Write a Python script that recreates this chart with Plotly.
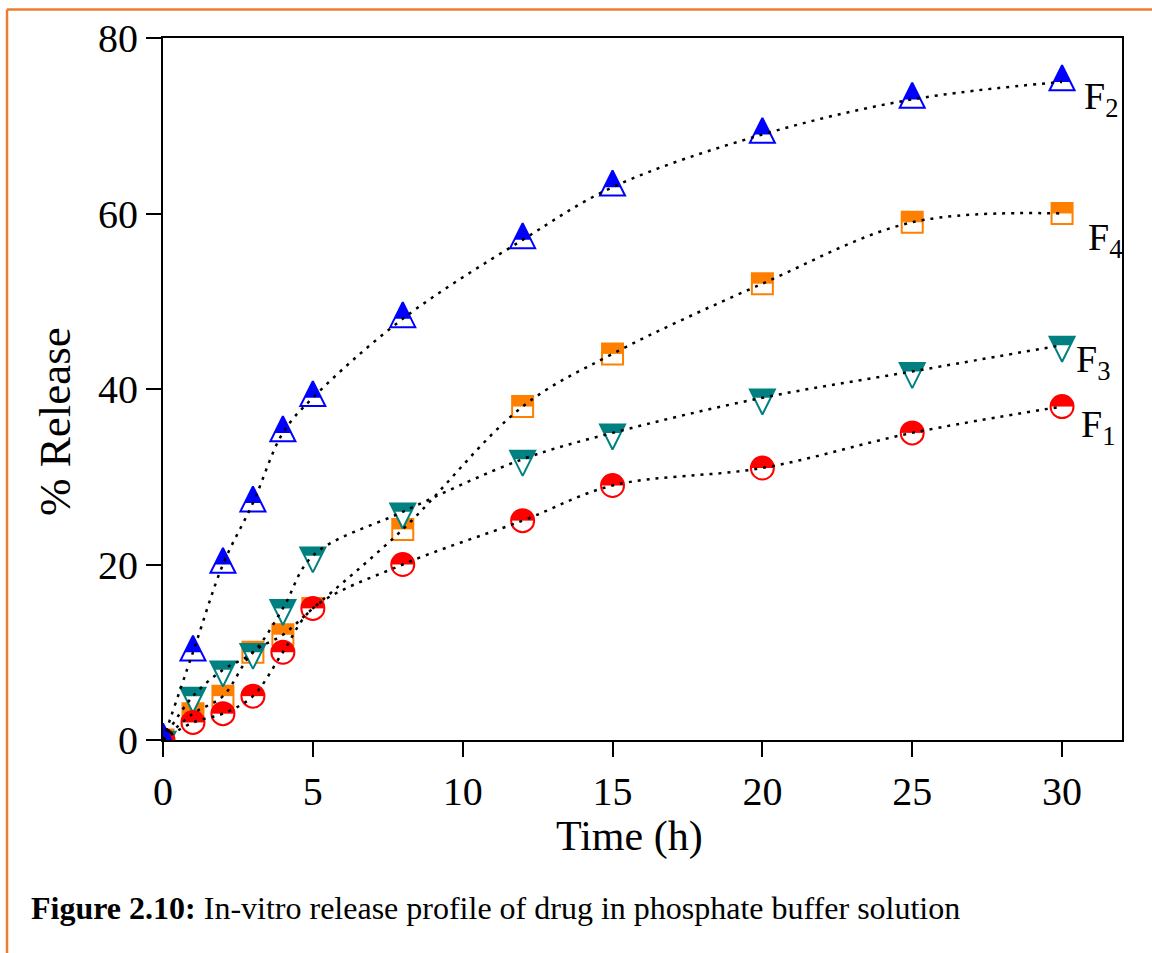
import plotly.graph_objects as go

# ---------------- data ----------------
time_h = [0, 1, 2, 3, 4, 5, 8, 12, 15, 20, 25, 30]
F1 = [0, 2, 3, 5, 10, 15, 20, 25, 29, 31, 35, 38]
F2 = [0, 10, 20, 27, 35, 39, 48, 57, 63, 69, 73, 75]
F3 = [0, 5, 8, 10, 15, 21, 26, 32, 35, 39, 42, 45]
F4 = [0, 3, 5, 10, 12, 15, 24, 38, 44, 52, 59, 60]
labels = {"F1": "F<sub>1</sub>", "F2": "F<sub>2</sub>", "F3": "F<sub>3</sub>", "F4": "F<sub>4</sub>"}
x_ticks = [0, 5, 10, 15, 20, 25, 30]
y_ticks = [0, 20, 40, 60, 80]
x_title = "Time (h)"
y_title = "% Release"
caption_bold = "Figure 2.10:"
caption_text = "In-vitro release profile of drug in phosphate buffer solution"

# ---------------- style ----------------
W, H = 1152, 953
L, R, T, B = 163, 1122, 38, 740
FONT = "Liberation Serif, Times New Roman, serif"
C1, C2, C3, C4 = "#FF0000", "#0000FF", "#008080", "#FF8000"
ORANGE_BORDER = "#ED7D31"
LW = 2


def pxx(xp):
    return (xp - L) / (R - L)


def pyy(yp):
    return (B - yp) / (B - T)


def shift(dy):
    """vertical pixel shift of a symmetric marker (dy>0 is down)"""
    if dy >= 0:
        return dict(angle=0, standoff=dy)
    return dict(angle=180, standoff=-dy)


fig = go.Figure()


def mk(x, y, **marker):
    fig.add_trace(go.Scatter(x=x, y=y, mode="markers", marker=marker,
                             hoverinfo="skip", showlegend=False))


# F4 : square, top half filled
s = 21
mk(time_h, F4, symbol="square", size=s, color="white", line=dict(width=0))
mk(time_h, F4, symbol="line-ew", size=s / 1.4, color=C4,
   line=dict(width=s / 2, color=C4), **shift(-s / 4))
mk(time_h, F4, symbol="square-open", size=s, color=C4, line=dict(width=LW, color=C4))

# F3 : triangle down, top part filled (split at centroid)
s = 25
k = 2 * s / 3
mk(time_h, F3, symbol="arrow-down", size=s, color=C3, line=dict(width=0), angle=0, standoff=k)
mk(time_h, F3, symbol="arrow-down", size=2 * s / 3, color="white", line=dict(width=0), angle=0, standoff=k)
mk(time_h, F3, symbol="arrow-down-open", size=s, color=C3, line=dict(width=LW, color=C3), angle=0, standoff=k)

# F1 : circle, top half filled
s = 23
mk(time_h, F1, symbol="circle", size=s, color=C1, line=dict(width=0))
mk(time_h, F1, symbol="line-ew", size=s / 1.4, color="white",
   line=dict(width=s / 2, color="white"), **shift(s / 4))
mk(time_h, F1, symbol="circle-open", size=s, color=C1, line=dict(width=LW, color=C1))

# F2 : triangle up, top part filled (split at centroid)
s = 25
k = 2 * s / 3
mk(time_h, F2, symbol="arrow-down", size=s, color="white", line=dict(width=0), angle=180, standoff=k)
mk(time_h, F2, symbol="arrow-down", size=2 * s / 3, color=C2, line=dict(width=0), angle=180, standoff=k)
mk(time_h, F2, symbol="arrow-down-open", size=s, color=C2, line=dict(width=LW, color=C2), angle=180, standoff=k)

# dotted curves
for ys in (F4, F3, F1, F2):
    fig.add_trace(go.Scatter(x=time_h, y=ys, mode="lines",
                             line=dict(color="black", width=2.5, dash="3px,6px",
                                       shape="spline", smoothing=1.0),
                             hoverinfo="skip", showlegend=False))

axis_common = dict(showline=True, linecolor="black", linewidth=LW, mirror=True,
                   ticks="outside", ticklen=15, tickwidth=LW, tickcolor="black",
                   showgrid=False, zeroline=False,
                   tickfont=dict(family=FONT, size=40, color="black"))

fig.update_layout(
    width=W, height=H,
    margin=dict(l=L, r=W - R, t=T, b=H - B, pad=0),
    paper_bgcolor="white", plot_bgcolor="white",
    xaxis=dict(range=[0, 32], tickvals=x_ticks, **axis_common),
    yaxis=dict(range=[0, 80], tickvals=y_ticks, **axis_common),
    showlegend=False,
)

ann = []
# series labels (offsets in px from last point)
label_offsets = {"F2": (20, 9), "F4": (24, 0), "F3": (12, 9), "F1": (17, 6)}
last = {"F1": F1[-1], "F2": F2[-1], "F3": F3[-1], "F4": F4[-1]}
for key, (dx, dy) in label_offsets.items():
    ann.append(dict(x=time_h[-1], y=last[key], xref="x", yref="y", text=labels[key],
                    showarrow=False, xanchor="left", yanchor="top", xshift=dx, yshift=dy,
                    font=dict(family=FONT, size=38, color="black")))
# axis titles
ann.append(dict(x=pxx(55), y=pyy(422), xref="paper", yref="paper", text=y_title,
                textangle=-90, showarrow=False, xanchor="center", yanchor="middle",
                font=dict(family=FONT, size=45, color="black")))
ann.append(dict(x=pxx(629), y=pyy(836), xref="paper", yref="paper", text=x_title,
                showarrow=False, xanchor="center", yanchor="middle",
                font=dict(family=FONT, size=42, color="black")))
# caption
ann.append(dict(x=pxx(29), y=pyy(908), xref="paper", yref="paper",
                text="<b>" + caption_bold + "</b> " + caption_text,
                showarrow=False, xanchor="left", yanchor="middle",
                font=dict(family=FONT, size=32, color="black")))
fig.update_layout(annotations=ann)

# orange frame (top and left)
fig.add_shape(type="line", xref="paper", yref="paper", x0=pxx(7), x1=pxx(W + 5),
              y0=pyy(9.5), y1=pyy(9.5), line=dict(color=ORANGE_BORDER, width=2.5))
fig.add_shape(type="line", xref="paper", yref="paper", x0=pxx(7), x1=pxx(7),
              y0=pyy(9.5), y1=pyy(H + 5), line=dict(color=ORANGE_BORDER, width=2.5))

fig.write_html("out.html")
